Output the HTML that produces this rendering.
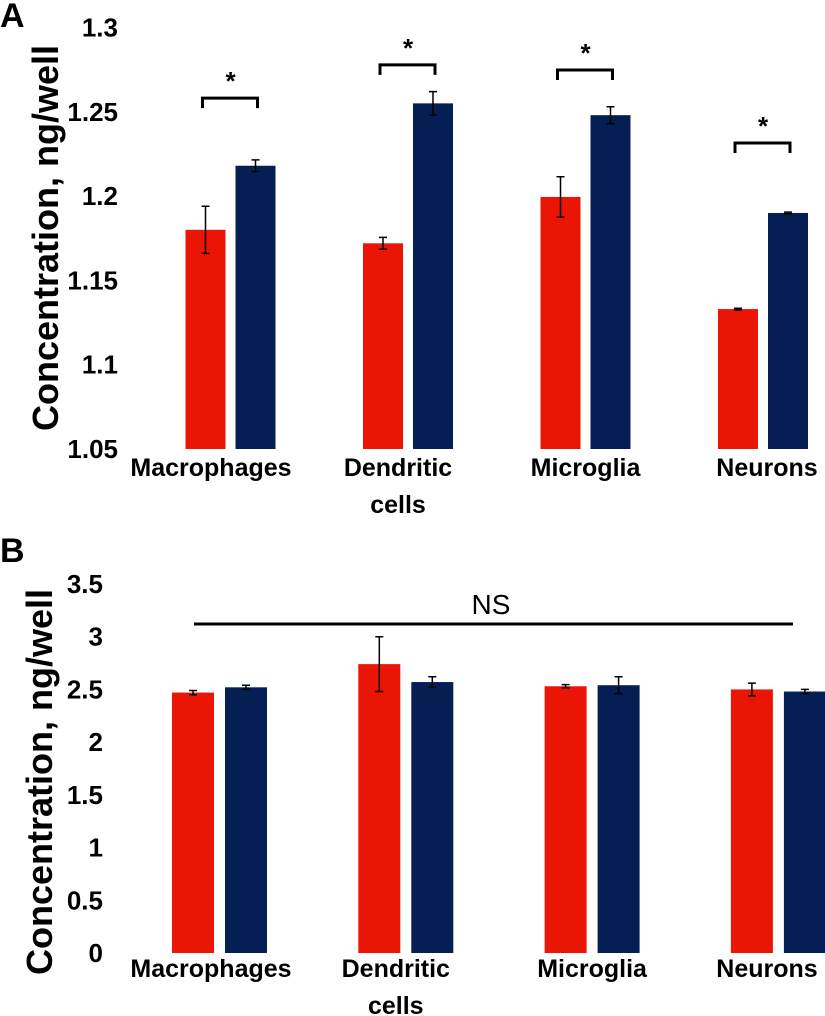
<!DOCTYPE html>
<html><head><meta charset="utf-8"><style>
body{margin:0;background:#fff;}
svg{display:block;font-family:"Liberation Sans",Arial,sans-serif;}
</style></head><body>
<svg id="c" width="825" height="1016" xmlns="http://www.w3.org/2000/svg"></svg>
<script>
const categories=["Macrophages","Dendritic cells","Microglia","Neurons"];
const aRed=[1.180,1.172,1.1995,1.133];
const aRedErr=[0.014,0.0035,0.012,0.0005];
const aNavy=[1.218,1.255,1.248,1.190];
const aNavyErr=[0.0035,0.007,0.005,0.0005];
const aBracket=[1.2581,1.2778,1.2748,1.2315];
const aTicks=["1.05","1.1","1.15","1.2","1.25","1.3"];
const bRed=[2.47,2.74,2.53,2.50];
const bRedErr=[0.02,0.26,0.015,0.06];
const bNavy=[2.52,2.57,2.54,2.48];
const bNavyErr=[0.02,0.05,0.08,0.02];
const bTicks=["0","0.5","1","1.5","2","2.5","3","3.5"];
const RED="#ea1505",NAVY="#051f55";
const svg=document.getElementById('c');
const NS="http://www.w3.org/2000/svg";
function mk(tag,attrs,text){const e=document.createElementNS(NS,tag);for(const k in attrs)e.setAttribute(k,attrs[k]);if(text!==undefined)e.textContent=text;svg.appendChild(e);return e;}
function panel(o){
  const y=v=>o.y0-(v-o.vmin)/(o.vmax-o.vmin)*(o.y0-o.y1);
  let t=mk('text',{x:0,y:o.letterY,'font-size':34,'font-weight':'bold'},o.letter);
  
  
  t=mk('text',{x:0,y:0,'font-size':36,'font-weight':'bold','text-anchor':'middle',transform:`translate(${o.titleX},${o.titleY}) rotate(-90)`},'Concentration, ng/well');
  
  
  o.ticks.forEach(s=>{
    const e=mk('text',{x:o.tickX,y:y(parseFloat(s))+9,'font-size':26,'font-weight':'bold','text-anchor':'end'},s);
    
    
  });
  categories.forEach((c,i)=>{
    const cx=o.cx0+i*o.gap;
    [[o.red,o.redErr,RED,cx-o.off],[o.navy,o.navyErr,NAVY,cx+o.off]].forEach(([vals,errs,col,bx],j)=>{
      const top=y(vals[i]);
      const r=mk('rect',{x:bx-o.bw/2,y:top,width:o.bw,height:o.y0-top,fill:col});
      
      
      const ya=y(vals[i]+errs[i]),yb=y(vals[i]-errs[i]);
      const g=mk('path',{d:`M${bx},${ya}V${yb}M${bx-4},${ya}H${bx+4}M${bx-4},${yb}H${bx+4}`,stroke:'#000','stroke-width':1.5,fill:'none'});
      
      
    });
    const lx=i===0?211:(i===1?cx-10:(i===3?767:cx));
    const parts=c.split(' ');
    parts.forEach((p,k)=>{
      const e=mk('text',{x:lx,y:o.labelY+k*37,'font-size':25,'font-weight':'bold','text-anchor':'middle'},p);
      
      
    });
  });
  return y;
}
const yA=panel({letter:'A',letterY:27,titleX:58,titleY:238,tickX:118,y0:449,y1:27.5,vmin:1.05,vmax:1.3,ticks:aTicks,cx0:230.5,gap:177.5,off:25,bw:40,red:aRed,redErr:aRedErr,navy:aNavy,navyErr:aNavyErr,labelY:476});
categories.forEach((c,i)=>{
  const cx=230.5+i*177.5;
  const by=yA(aBracket[i]);
  const b=mk('path',{d:`M${cx-28},${by+10}V${by}H${cx+27}V${by+10}`,stroke:'#000','stroke-width':3,fill:'none'});
  
  
  const s=mk('text',{x:cx,y:by-8,'font-size':26,'font-weight':'bold','text-anchor':'middle'},'*');
  
  
});
panel({letter:'B',letterY:562,titleX:52,titleY:782,tickX:103,y0:953,y1:584,vmin:0,vmax:3.5,ticks:bTicks,cx0:219.5,gap:186.3,off:26.5,bw:42,red:bRed,redErr:bRedErr,navy:bNavy,navyErr:bNavyErr,labelY:977});
let l=mk('line',{x1:194,y1:624,x2:793,y2:624,stroke:'#000','stroke-width':3});


let n=mk('text',{x:491,y:614,'font-size':28,'text-anchor':'middle'},'NS');


</script>
</body></html>
